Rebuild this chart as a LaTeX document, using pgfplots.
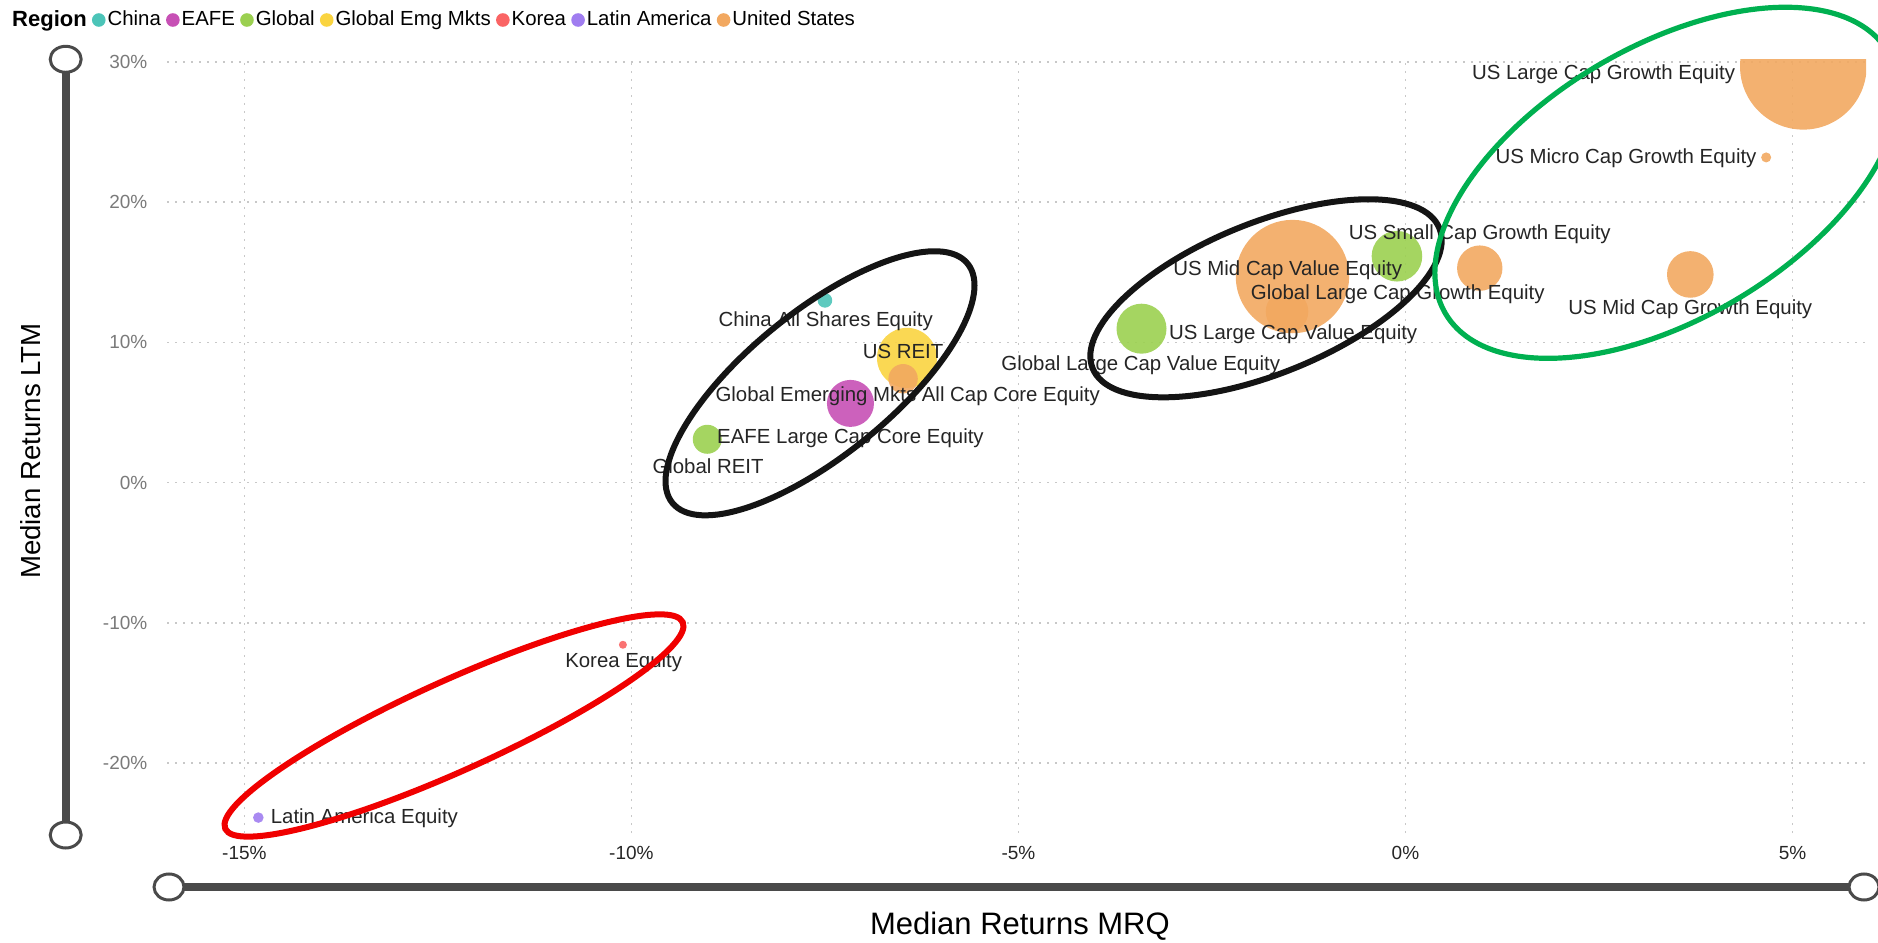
\documentclass[border=0pt]{standalone}
\usepackage{pgfplots}
\pgfplotsset{compat=1.18}
\usepackage{pgfplotstable}
\usepackage{fontspec}
\setmainfont{Liberation Sans}
\definecolor{cChina}{RGB}{76,196,184}
\definecolor{cEAFE}{RGB}{199,80,181}
\definecolor{cGlobal}{RGB}{155,208,80}
\definecolor{cGEM}{RGB}{250,212,64}
\definecolor{cKorea}{RGB}{250,100,100}
\definecolor{cLatam}{RGB}{160,125,240}
\definecolor{cUS}{RGB}{242,168,96}
\definecolor{txt}{RGB}{37,37,37}
\definecolor{grd}{RGB}{200,200,200}
\definecolor{sld}{RGB}{74,74,74}
\definecolor{annGreen}{RGB}{0,176,80}
\definecolor{annRed}{RGB}{240,0,0}

% x = Median Returns MRQ (%), y = Median Returns LTM (%), r = bubble radius (px)
\pgfplotstableread[row sep=\\]{
x y r\\
-7.50 13.00 7.3\\
}\tChina
\pgfplotstableread[row sep=\\]{
x y r\\
-7.17 5.65 23.5\\
}\tEAFE
\pgfplotstableread[row sep=\\]{
x y r\\
-0.11 16.15 25.3\\
-3.41 10.98 25.0\\
-9.02 3.09 14.5\\
}\tGlobal
\pgfplotstableread[row sep=\\]{
x y r\\
-6.44 8.90 30.0\\
}\tGEM
\pgfplotstableread[row sep=\\]{
x y r\\
-10.11 -11.57 4.0\\
}\tKorea
\pgfplotstableread[row sep=\\]{
x y r\\
-14.82 -23.90 5.3\\
}\tLatam
\pgfplotstableread[row sep=\\]{
x y r\\
5.14 29.70 63.3\\
4.66 23.20 5.0\\
3.68 14.85 23.3\\
0.96 15.30 22.7\\
-1.46 14.70 56.7\\
-1.53 12.20 21.3\\
-6.49 7.41 14.7\\
}\tUS
\pgfplotstableread[col sep=comma,row sep=\\]{
x,y,label\\
2.56,29.10,US Large Cap Growth Equity\\
2.85,23.16,US Micro Cap Growth Equity\\
0.96,17.70,US Small Cap Growth Equity\\
-1.52,15.15,US Mid Cap Value Equity\\
-0.10,13.42,Global Large Cap Growth Equity\\
3.68,12.35,US Mid Cap Growth Equity\\
-1.45,10.57,US Large Cap Value Equity\\
-3.42,8.36,Global Large Cap Value Equity\\
-7.49,11.52,China All Shares Equity\\
-6.49,9.34,US REIT\\
-6.43,6.13,Global Emerging Mkts All Cap Core Equity\\
-7.17,3.14,EAFE Large Cap Core Equity\\
-9.01,1.14,Global REIT\\
-10.10,-12.83,Korea Equity\\
-13.45,-23.93,Latin America Equity\\
}\tLabels

\pgfplotsset{bubble/.style={scatter, only marks, mark=*, forget plot, color=#1,
  mark options={draw opacity=0, fill opacity=0.9},
  scatter/use mapped color={fill=#1, draw opacity=0, fill opacity=0.9},
  visualization depends on={\thisrow{r} \as \rad},
  scatter/@pre marker code/.append style={/tikz/mark size=0.5*\rad}}}

\begin{document}
\begin{tikzpicture}
\useasboundingbox (0,0) rectangle (939pt,471pt);
\begin{axis}[
  at={(83.5pt,54.5pt)}, anchor=south west,
  scale only axis, width=849.5pt, height=386.85pt,
  xmin=-16, xmax=5.95, ymin=-25, ymax=30.2,
  axis line style={draw=none},
  major tick length=0pt,
  xtick={-15,-10,-5,0,5}, xticklabels={-15\%,-10\%,-5\%,0\%,5\%},
  ytick={-20,-10,0,10,20,30}, yticklabels={-20\%,-10\%,0\%,10\%,20\%,30\%},
  xticklabel style={font=\fontsize{9.5}{11}\selectfont, text=black!85, yshift=-3pt},
  yticklabel style={font=\fontsize{9.5}{11}\selectfont, text=black!52, xshift=-6.3pt},
  grid=major,
  major grid style={draw=grd, line width=0.9pt, dash pattern=on 0.9pt off 3.1pt},
  clip marker paths=true,
  xlabel={Median Returns MRQ}, ylabel={Median Returns LTM},
  xlabel style={at={(axis description cs:0.502,-0.1202)}, anchor=center, font=\fontsize{15.5}{18}\selectfont},
  ylabel style={at={(axis description cs:-0.080,0.4937)}, anchor=center, font=\fontsize{13.8}{16}\selectfont},
  legend columns=-1,
  legend image code/.code={\fill[#1] (0pt,0pt) circle (3.4pt);},
  legend style={draw=none, fill=none, at={(axis description cs:-0.0925,1.0508)}, anchor=west,
    font=\fontsize{10.2}{12}\selectfont, inner sep=0pt, nodes={inner sep=1pt},
    /tikz/every even column/.append style={column sep=1.6pt}},
  legend cell align=left,
]
\addlegendimage{empty legend}
\addlegendentry{\textbf{\fontsize{11}{13}\selectfont Region}\hspace{16pt}}
\addlegendimage{fill=cChina, draw=none}\addlegendentry{China}
\addlegendimage{fill=cEAFE, draw=none}\addlegendentry{EAFE}
\addlegendimage{fill=cGlobal, draw=none}\addlegendentry{Global}
\addlegendimage{fill=cGEM, draw=none}\addlegendentry{Global Emg Mkts}
\addlegendimage{fill=cKorea, draw=none}\addlegendentry{Korea}
\addlegendimage{fill=cLatam, draw=none}\addlegendentry{Latin America}
\addlegendimage{fill=cUS, draw=none}\addlegendentry{United States}

\addplot[bubble=cChina] table[x=x,y=y]{\tChina};
\addplot[bubble=cEAFE] table[x=x,y=y]{\tEAFE};
\addplot[bubble=cGlobal] table[x=x,y=y]{\tGlobal};
\addplot[bubble=cGEM] table[x=x,y=y]{\tGEM};
\addplot[bubble=cKorea] table[x=x,y=y]{\tKorea};
\addplot[bubble=cLatam] table[x=x,y=y]{\tLatam};
\addplot[bubble=cUS] table[x=x,y=y]{\tUS};

\addplot[only marks, mark=none, forget plot, point meta=explicit symbolic,
  nodes near coords, nodes near coords align={center},
  every node near coord/.append style={anchor=center, font=\fontsize{10.2}{12}\selectfont, text=txt, inner sep=0pt}]
  table[x=x,y=y,meta=label]{\tLabels};
\end{axis}

\begin{scope}[shift={(0,471pt)}, x=0.5pt, y=-0.5pt]
  % play-axis style sliders
  \draw[sld, line width=4pt] (65.7,59.3) -- (65.7,835);
  \draw[sld, line width=1.5pt, fill=white] (65.7,59.3) ellipse (15.5 and 13);
  \draw[sld, line width=1.5pt, fill=white] (65.7,835) ellipse (15.5 and 13);
  \draw[sld, line width=4pt] (169,887) -- (1864,887);
  \draw[sld, line width=1.5pt, fill=white] (169,887) ellipse (15 and 13);
  \draw[sld, line width=1.5pt, fill=white] (1864,887) ellipse (15 and 13);
  % hand-drawn highlight ellipses
  \draw[annRed, line width=3pt, rotate around={24.3:(454,725.5)}] (454,725.5) ellipse (251 and 45);
  \draw[black!92, line width=3pt, rotate around={39:(820,383.3)}] (820,383.3) ellipse (190 and 72);
  \draw[black!92, line width=3pt, rotate around={22:(1266,298.3)}] (1266,298.3) ellipse (187 and 75.5);
  \draw[annGreen, line width=2.6pt, rotate around={30.6:(1666.7,182.8)}] (1666.7,182.8) ellipse (257 and 136);
\end{scope}
\end{tikzpicture}
\end{document}
